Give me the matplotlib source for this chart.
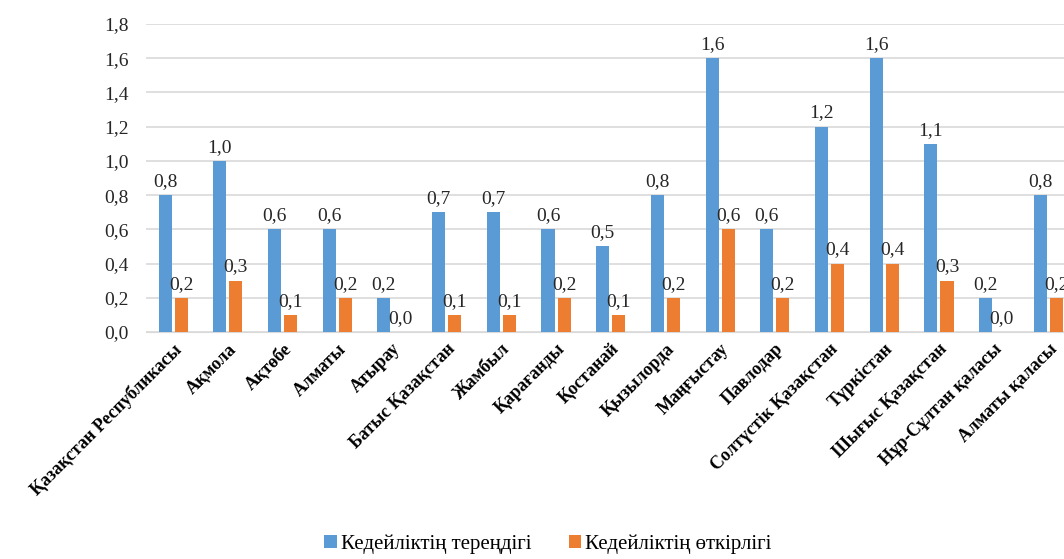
import matplotlib.pyplot as plt
import numpy as np

plt.rcParams['font.family'] = ['Liberation Serif', 'DejaVu Serif']

regions = ['Қазақстан Республикасы', 'Ақмола', 'Ақтөбе', 'Алматы', 'Атырау',
           'Батыс Қазақстан', 'Жамбыл', 'Қарағанды', 'Қостанай', 'Қызылорда',
           'Маңғыстау', 'Павлодар', 'Солтүстік Қазақстан', 'Түркістан',
           'Шығыс Қазақстан', 'Нұр-Сұлтан қаласы', 'Алматы қаласы']
depth = [0.8, 1.0, 0.6, 0.6, 0.2, 0.7, 0.7, 0.6, 0.5, 0.8,
         1.6, 0.6, 1.2, 1.6, 1.1, 0.2, 0.8]
severity = [0.2, 0.3, 0.1, 0.2, 0.0, 0.1, 0.1, 0.2, 0.1, 0.2,
            0.6, 0.2, 0.4, 0.4, 0.3, 0.0, 0.2]
series_names = ['Кедейліктің тереңдігі', 'Кедейліктің өткірлігі']

fig = plt.figure(figsize=(10.64, 5.59), dpi=100)
# the original picture is cut off on the right, so the axes run past the edge
ax = fig.add_axes([0.137, 0.406, 0.874, 0.551])

x = np.arange(len(regions))
w = 0.24
off = 0.147
b1 = ax.bar(x - off, depth, w, color='#5B9BD5', label=series_names[0], zorder=3)
b2 = ax.bar(x + off, severity, w, color='#ED7D31', label=series_names[1], zorder=3)

def fmt(v):
    return f'{v:.1f}'.replace('.', ',')

for bars, vals in ((b1, depth), (b2, severity)):
    for bar, v in zip(bars, vals):
        ax.text(bar.get_x() + bar.get_width() / 2, v + 0.03, fmt(v),
                ha='center', va='bottom', fontsize=14, color='#262626')

ax.set_xlim(-0.5, len(regions) - 0.5)
ax.set_ylim(0, 1.8)
ticks = np.arange(0, 1.81, 0.2)
ax.set_yticks(ticks)
ax.set_yticklabels([fmt(t) for t in ticks], fontsize=14, color='#262626')
ax.set_xticks(x)
ax.set_xticklabels(regions, rotation=45, ha='right', rotation_mode='anchor',
                   fontsize=13, fontweight='bold')
ax.tick_params(axis='y', length=0, pad=12)
ax.tick_params(axis='x', length=0, pad=6)

ax.grid(axis='y', color='#D9D9D9', linewidth=1.2, zorder=0)
for s in ['top', 'right', 'left']:
    ax.spines[s].set_visible(False)
ax.spines['bottom'].set_color('#D9D9D9')

fig.legend(handles=[b1, b2], loc='lower center', bbox_to_anchor=(0.515, -0.025),
           ncol=2, frameon=False, fontsize=15, handlelength=0.6,
           handleheight=0.6, handletextpad=0.2, columnspacing=1.8)

plt.savefig('out.png', dpi=100)
plt.close()
